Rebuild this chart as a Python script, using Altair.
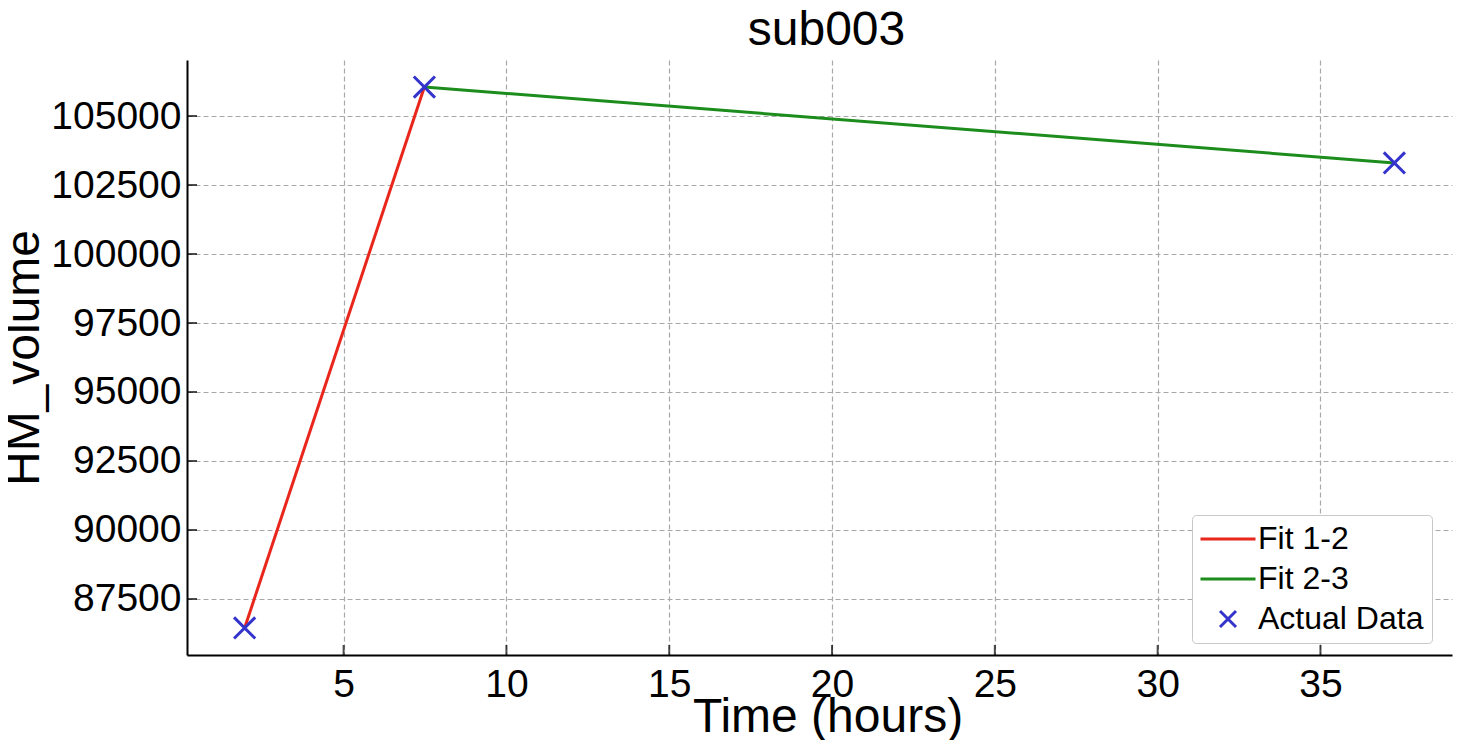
import altair as alt
import pandas as pd

# data
times = [1.96, 7.48, 37.27]
volumes = [86450, 106050, 103300]
series_names = ["Fit 1-2", "Fit 2-3", "Actual Data"]
series_colors = ["#e8261c", "#1c8c1c", "#3434cc"]
x_ticks = [5, 10, 15, 20, 25, 30, 35]
y_ticks = [87500, 90000, 92500, 95000, 97500, 100000, 102500, 105000]

points = pd.DataFrame({"t": times, "v": volumes, "series": ["Actual Data"] * 3})
lines = pd.DataFrame({
    "t": [times[0], times[1], times[1], times[2]],
    "v": [volumes[0], volumes[1], volumes[1], volumes[2]],
    "series": ["Fit 1-2", "Fit 1-2", "Fit 2-3", "Fit 2-3"],
})
xt = pd.DataFrame({"t": x_ticks})
yt = pd.DataFrame({"v": y_ticks})

W, H = 1265, 595
FONT = "Liberation Sans"
XPATH = "M-0.8,-0.8L0.8,0.8M-0.8,0.8L0.8,-0.8"
LPATH = "M-2.75,0L2.75,0"

xscale = alt.Scale(domain=[0.19, 39.04], nice=False, zero=False)
yscale = alt.Scale(domain=[85470, 107030], nice=False, zero=False)

xaxis = alt.Axis(values=x_ticks, title="Time (hours)", ticks=False, format="d",
                 labelPadding=10, titlePadding=-11, titleX=W / 2 + 8)
yaxis = alt.Axis(values=y_ticks, title="HM_volume", ticks=False, format="d",
                 labelPadding=6, titlePadding=2)

color = alt.Color("series:N", scale=alt.Scale(domain=series_names, range=series_colors),
                  legend=alt.Legend(title=None))

line_layer = alt.Chart(lines).mark_line(strokeWidth=3).encode(
    x=alt.X("t:Q", scale=xscale, axis=xaxis),
    y=alt.Y("v:Q", scale=yscale, axis=yaxis),
    color=color,
    detail="series:N",
)

point_layer = alt.Chart(points).mark_point(filled=False, strokeWidth=3, size=700, opacity=1).encode(
    x=alt.X("t:Q", scale=xscale),
    y=alt.Y("v:Q", scale=yscale),
    color=color,
    shape=alt.Shape("series:N", scale=alt.Scale(domain=series_names,
                                                range=[LPATH, LPATH, XPATH]),
                    legend=alt.Legend(title=None)),
)

xtick_layer = alt.Chart(xt).mark_tick(orient="vertical", size=10, thickness=2, color="black").encode(
    x=alt.X("t:Q", scale=xscale), y=alt.value(H - 5))
ytick_layer = alt.Chart(yt).mark_tick(orient="horizontal", size=10, thickness=2, color="black").encode(
    y=alt.Y("v:Q", scale=yscale), x=alt.value(5))

chart = alt.layer(line_layer, point_layer, xtick_layer, ytick_layer).properties(
    width=W, height=H,
    title=alt.TitleParams("sub003", fontSize=48, font=FONT, fontWeight="normal",
                          color="black", anchor="middle", offset=5, dx=7),
    autosize=alt.AutoSizeParams(type="none"),
    padding={"left": 179, "top": 52, "right": 16, "bottom": 85},
).configure_view(stroke=None).configure_axis(
    labelFont=FONT, labelFontSize=39, labelColor="black",
    titleFont=FONT, titleFontSize=48, titleFontWeight="normal", titleColor="black",
    domainColor="black", domainWidth=2,
    grid=True, gridColor="#a8a8a8", gridDash=[5, 3], gridWidth=1.2,
).configure_legend(
    orient="none", legendX=1005, legendY=455,
    fillColor="white", strokeColor="#c8c8c8", cornerRadius=4, padding=8,
    labelFont=FONT, labelFontSize=32, labelColor="black", labelLimit=400,
    symbolSize=400, symbolStrokeWidth=3, symbolOffset=12, rowPadding=8, labelOffset=14,
)

chart.save("out.html", embed_options={"renderer": "svg", "actions": False})
